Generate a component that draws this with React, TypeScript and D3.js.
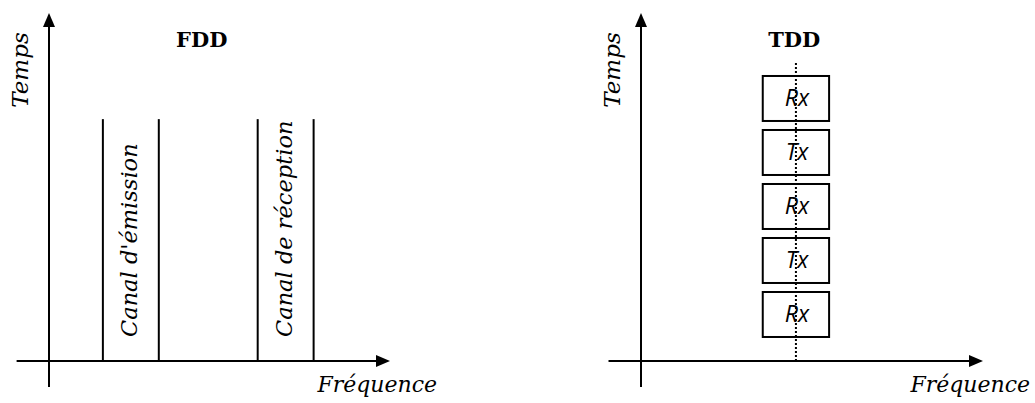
import { useEffect, useRef } from "react"
import * as d3 from "d3"

// FDD: two frequency channels (freq units), running up to a common time
const fddChannels = ["Canal d'émission", "Canal de réception"]
const fddStart = [1.58, 6.12]
const fddEnd = [3.22, 7.76]
const fddTop = 6.95

// TDD: one carrier, time slots alternating Rx / Tx (bottom to top)
const tddSlots = ["Rx", "Tx", "Rx", "Tx", "Rx"]
const tddCenter = 4.53
const tddHalfWidth = 0.97
const tddLineTop = 8.56

const W = 1035
const H = 403

const serif = "'DejaVu Serif', 'Liberation Serif', serif"

const App = () => {
  const ref = useRef<SVGSVGElement>(null)

  useEffect(() => {
    if (!ref.current) return
    const svg = d3.select(ref.current)
    svg.selectAll("*").remove()

    const drawAxes = (g: any, x: any, y: any, title: string) => {
      const x0 = x(0)
      const y0 = y(0)
      const [xl, xr] = [x(-0.95), x(10)]
      const yTop = y(10)
      const yBot = y(-0.75)
      // y axis
      g.append("line")
        .attr("x1", x0).attr("x2", x0)
        .attr("y1", yBot).attr("y2", yTop + 10)
        .attr("stroke", "#000").attr("stroke-width", 2)
      g.append("path")
        .attr("d", `M${x0},${yTop} L${x0 - 6},${yTop + 14} L${x0 + 6},${yTop + 14} Z`)
        .attr("fill", "#000")
      // x axis
      g.append("line")
        .attr("x1", xl).attr("x2", xr - 10)
        .attr("y1", y0).attr("y2", y0)
        .attr("stroke", "#000").attr("stroke-width", 2)
      g.append("path")
        .attr("d", `M${xr},${y0} L${xr - 14},${y0 - 6} L${xr - 14},${y0 + 6} Z`)
        .attr("fill", "#000")

      g.append("text")
        .attr("transform", `translate(${x0 - 21},${y(8.36)}) rotate(-90)`)
        .attr("text-anchor", "middle")
        .attr("font-family", serif)
        .attr("font-style", "italic")
        .attr("font-size", 23)
        .text("Temps")

      g.append("text")
        .attr("x", xr + 47)
        .attr("y", y0 + 31)
        .attr("text-anchor", "end")
        .attr("font-family", serif)
        .attr("font-style", "italic")
        .attr("font-size", 22)
        .text("Fréquence")

      g.append("text")
        .attr("x", x(4.48))
        .attr("y", 47)
        .attr("text-anchor", "middle")
        .attr("font-family", serif)
        .attr("font-weight", "bold")
        .attr("font-size", 21)
        .text(title)
    }

    // left panel : FDD
    const xL = d3.scaleLinear().domain([0, 10]).range([49, 390])
    const yL = d3.scaleLinear().domain([0, 10]).range([361, 13])
    const gL = svg.append("g")
    drawAxes(gL, xL, yL, "FDD")

    fddChannels.forEach((name, i) => {
      ;[fddStart[i], fddEnd[i]].forEach((f) => {
        gL.append("line")
          .attr("x1", xL(f)).attr("x2", xL(f))
          .attr("y1", yL(0)).attr("y2", yL(fddTop))
          .attr("stroke", "#000").attr("stroke-width", 2)
      })
      gL.append("text")
        .attr("transform", `translate(${(xL(fddStart[i]) + xL(fddEnd[i])) / 2 + 6},${yL(0) - 24}) rotate(-90)`)
        .attr("text-anchor", "start")
        .attr("font-family", serif)
        .attr("font-style", "italic")
        .attr("font-size", 22.5)
        .text(name)
    })

    // right panel : TDD
    const xR = d3.scaleLinear().domain([0, 10]).range([641, 983])
    const yR = d3.scaleLinear().domain([0, 10]).range([361, 13])
    const gR = svg.append("g")
    drawAxes(gR, xR, yR, "TDD")

    const slot = d3
      .scaleBand<number>()
      .domain(d3.range(tddSlots.length))
      .range([yR(0.69), yR(8.19)])
      .paddingInner(0.167)

    tddSlots.forEach((lbl, i) => {
      const yTop = slot(i)!
      gR.append("rect")
        .attr("x", xR(tddCenter - tddHalfWidth))
        .attr("y", yTop)
        .attr("width", xR(tddCenter + tddHalfWidth) - xR(tddCenter - tddHalfWidth))
        .attr("height", slot.bandwidth())
        .attr("fill", "#fff")
        .attr("stroke", "#000")
        .attr("stroke-width", 2)
      gR.append("text")
        .attr("x", xR(tddCenter) + 1)
        .attr("y", yTop + slot.bandwidth() / 2 + 8)
        .attr("text-anchor", "middle")
        .attr("font-family", "'Open Sans', 'Liberation Sans', sans-serif")
        .attr("font-style", "italic")
        .attr("font-weight", 500)
        .attr("font-size", 23)
        .text(lbl)
    })

    gR.append("line")
      .attr("x1", xR(tddCenter)).attr("x2", xR(tddCenter))
      .attr("y1", yR(0)).attr("y2", yR(tddLineTop))
      .attr("stroke", "#000").attr("stroke-width", 2)
      .attr("stroke-dasharray", "2,2")
  }, [])

  return (
    <div style={{ position: "fixed", left: 0, top: 0, background: "#fff" }}>
      <svg ref={ref} width={W} height={H} viewBox={`0 0 ${W} ${H}`} />
    </div>
  )
}

export default App
